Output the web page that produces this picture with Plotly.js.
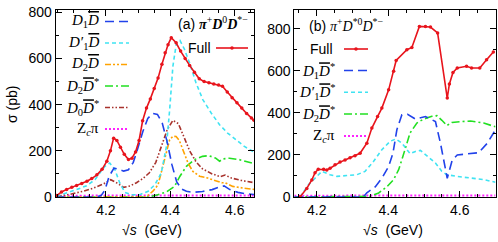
<!DOCTYPE html>
<html><head><meta charset="utf-8">
<script src="https://cdn.plot.ly/plotly-3.0.1.min.js"></script>
<style>body{margin:0;padding:0;background:#fff}#chart{width:498px;height:242px}</style>
</head><body><div id="chart"></div>
<script>
// ---------- Panel (a): pi+ D0 D*- ----------
const aFullX = [4.047,4.062,4.078,4.094,4.109,4.125,4.141,4.156,4.172,4.188,4.203,4.214,4.224,4.234,4.245,4.257,4.27,4.281,4.292,4.303,4.314,4.326,4.338,4.35,4.362,4.374,4.384,4.393,4.403,4.418,4.432,4.446,4.46,4.475,4.49,4.505,4.52,4.535,4.55,4.562,4.577,4.592,4.607,4.622,4.637,4.652,4.66];
const aFull  = [6,22,33,42,50,58,68,80,96,120,155,200,255,245,215,185,162,168,195,245,330,385,425,470,515,575,625,660,690,668,632,600,570,540,512,500,495,490,485,480,455,430,408,385,362,342,332];
const aD1X = [4.044,4.17,4.185,4.197,4.21,4.225,4.24,4.255,4.27,4.285,4.3,4.315,4.33,4.345,4.36,4.375,4.39,4.405,4.42,4.435,4.45,4.47,4.5,4.53,4.55,4.567,4.585,4.61,4.635,4.66];
const aD1  = [0,0,6,30,90,125,120,112,118,150,215,285,340,362,358,320,240,140,65,35,25,20,24,32,42,48,32,20,14,11];
const aD1pX = [4.047,4.078,4.109,4.14,4.166,4.181,4.197,4.212,4.228,4.243,4.259,4.279,4.305,4.331,4.352,4.372,4.388,4.398,4.408,4.419,4.43,4.444,4.46,4.48,4.501,4.527,4.553,4.578,4.604,4.63,4.66];
const aD1p  = [3,17,32,49,75,104,133,147,118,61,20,10,10,25,53,104,219,378,566,667,678,640,580,494,422,364,313,277,248,219,195];
const aD2X = [4.044,4.32,4.33,4.346,4.362,4.377,4.388,4.398,4.408,4.418,4.428,4.439,4.455,4.47,4.491,4.516,4.542,4.56,4.57,4.594,4.625,4.66];
const aD2  = [0,0,6,25,53,133,198,248,263,262,245,205,147,111,90,82,70,62,62,46,39,33];
const aD2sX = [4.044,4.33,4.357,4.388,4.413,4.43,4.45,4.475,4.5,4.52,4.54,4.553,4.563,4.584,4.614,4.645,4.66];
const aD2s  = [0,0,8,22,46,90,133,162,176,179,169,155,165,168,162,150,145];
const aD0sX = [4.047,4.09,4.13,4.16,4.19,4.215,4.235,4.255,4.275,4.295,4.315,4.335,4.355,4.372,4.39,4.408,4.425,4.44,4.46,4.48,4.5,4.53,4.555,4.57,4.59,4.62,4.66];
const aD0s  = [3,12,25,38,55,75,60,42,48,62,80,105,150,215,290,332,318,268,200,152,122,100,88,95,82,72,62];
const aZcX = [4.044,4.08,4.15,4.25,4.35,4.45,4.55,4.66];
const aZc  = [2,5,6,7,7,7,6,6];

// ---------- Panel (b): pi+ D*0 D*- ----------
const bFullX = [4.153,4.172,4.186,4.195,4.204,4.219,4.228,4.237,4.251,4.265,4.279,4.293,4.307,4.321,4.340,4.354,4.370,4.382,4.401,4.415,4.422,4.452,4.466,4.487,4.504,4.518,4.538,4.565,4.571,4.581,4.593,4.619,4.633,4.656,4.675,4.694];
const bFull  = [0,41,81,116,132,132,129,137,153,166,176,187,196,208,256,328,383,423,510,598,650,701,712,812,812,809,781,471,538,593,614,622,614,614,653,690];
const bD1X = [4.137,4.33,4.34,4.364,4.382,4.401,4.413,4.424,4.438,4.454,4.476,4.504,4.532,4.546,4.565,4.579,4.593,4.621,4.653,4.677,4.7];
const bD1  = [0,0,20,49,89,145,208,320,391,394,371,383,359,256,89,176,200,205,211,256,320];
const bD1pX = [4.153,4.177,4.2,4.214,4.237,4.256,4.284,4.312,4.335,4.359,4.382,4.405,4.421,4.438,4.461,4.476,4.49,4.508,4.532,4.55,4.564,4.592,4.63,4.667,4.7];
const bD1p  = [0,59,98,122,106,98,102,106,122,170,225,265,276,257,206,217,222,197,162,122,106,98,90,83,70];
const bD2sX = [4.137,4.33,4.349,4.373,4.396,4.415,4.429,4.441,4.452,4.461,4.48,4.499,4.522,4.536,4.55,4.564,4.578,4.611,4.63,4.667,4.7];
const bD2s  = [0,0,3,19,48,83,130,194,257,305,352,371,384,387,365,340,355,360,362,352,334];
const bZcX = [4.137,4.2,4.3,4.4,4.5,4.6,4.7];
const bZc  = [6,7,7,7,7,7,7];

const xTicks = [4.2,4.4,4.6];
const xTickText = ['4.2','4.4','4.6'];
const yTicks = [0,200,400,600,800];

// legend labels
const DB = '<span style="text-decoration:overline"><i>D</i></span>';
const labA = ['<i>D</i><sub>1</sub>'+DB,'<i>D\u2032</i><sub>1</sub>'+DB,'<i>D</i><sub>2</sub>'+DB,'<i>D</i><sub>2</sub>'+DB+'<sup>*</sup>','<i>D</i><sub>0</sub>'+DB+'<sup>*</sup>','Z<sub><i>c</i></sub>π'];
const labB = ['<i>D</i><sub>1</sub>'+DB+'<sup>*</sup>','<i>D\u2032</i><sub>1</sub>'+DB+'<sup>*</sup>','<i>D</i><sub>2</sub>'+DB+'<sup>*</sup>','Z<sub><i>c</i></sub>π'];

// ---------- styles ----------
const C = {red:'#e8141c', blue:'#2142ea', cyan:'#3fe3f2', orange:'#ffa200', green:'#22e022', brown:'#a8322c', mag:'#ff22ff'};
const D = {blue:'9px,5px', cyan:'4px,3px', orange:'6px,2px,2px,2px,2px,2px', green:'8px,3px,2px,3px', brown:'5px,2px,1.5px,2px,1.5px,2px', mag:'2px,2px'};
const LW = 1.6;
function ln(x,y,col,dash,xa,ya,w){return {x:x,y:y,type:'scatter',mode:'lines',xaxis:xa,yaxis:ya,line:{color:col,dash:dash,width:w||LW},hoverinfo:'skip'};}

const traces = [
  ln(aZcX,aZc,C.mag,D.mag,'x','y',2),
  ln(aD0sX,aD0s,C.brown,D.brown,'x','y'),
  ln(aD2sX,aD2s,C.green,D.green,'x','y'),
  ln(aD2X,aD2,C.orange,D.orange,'x','y'),
  ln(aD1pX,aD1p,C.cyan,D.cyan,'x','y'),
  ln(aD1X,aD1,C.blue,D.blue,'x','y'),
  {x:aFullX,y:aFull,type:'scatter',mode:'lines+markers',xaxis:'x',yaxis:'y',line:{color:C.red,width:LW},marker:{color:C.red,size:3.5},hoverinfo:'skip'},
  ln(bZcX,bZc,C.mag,D.mag,'x2','y2',2),
  ln(bD2sX,bD2s,C.green,D.green,'x2','y2'),
  ln(bD1pX,bD1p,C.cyan,D.cyan,'x2','y2'),
  ln(bD1X,bD1,C.blue,D.blue,'x2','y2'),
  {x:bFullX,y:bFull,type:'scatter',mode:'lines+markers',xaxis:'x2',yaxis:'y2',line:{color:C.red,width:LW},marker:{color:C.red,size:3.5},hoverinfo:'skip'}
];

const W=498,H=242;
const PX = p=>p/W, PY = p=>(H-p)/H;
const tickFont = {family:'Liberation Sans, Arial, sans-serif', size:14, color:'#000'};
function xax(dom,rng){return {domain:dom,range:rng,tickvals:xTicks,ticktext:xTickText,ticks:'inside',ticklen:6,tickcolor:'#000',mirror:'ticks',showline:true,linecolor:'#000',linewidth:1,showgrid:false,zeroline:false,tickfont:tickFont,minor:{ticks:'inside',ticklen:3,dtick:0.05,tick0:4.0,tickcolor:'#000'},fixedrange:true};}
function yax(rng,anchor){return {domain:[45/H,232/H],range:rng,anchor:anchor,tickvals:yTicks,ticks:'inside',ticklen:6,tickcolor:'#000',mirror:'ticks',showline:true,linecolor:'#000',linewidth:1,showgrid:false,zeroline:false,tickfont:tickFont,minor:{ticks:'inside',ticklen:3,dtick:100,tick0:0,tickcolor:'#000'},fixedrange:true};}

const serif = {family:'Liberation Serif, Times New Roman, serif', size:15, color:'#000'};
const sans = {family:'Liberation Sans, Arial, sans-serif', size:14, color:'#000'};
const ann = [];
const shapes = [];
function txt(t,x,y,font,xanchor){ann.push({text:t,x:PX(x),y:PY(y),xref:'paper',yref:'paper',showarrow:false,font:font,xanchor:xanchor||'right',yanchor:'middle'});}
function sample(x0,x1,y,col,dash,w){shapes.push({type:'line',xref:'paper',yref:'paper',x0:PX(x0),x1:PX(x1),y0:PY(y),y1:PY(y),line:{color:col,dash:dash,width:w||LW}});}
function dot(x,y,col){shapes.push({type:'circle',xref:'paper',yref:'paper',x0:PX(x-1.8),x1:PX(x+1.8),y0:PY(y-1.8),y1:PY(y+1.8),fillcolor:col,line:{width:0}});}

// panel (a) legend
const rowsA=[21.5,43,64.5,86,107.5,129];
const colA=[C.blue,C.cyan,C.orange,C.green,C.brown,C.mag];
const dashA=[D.blue,D.cyan,D.orange,D.green,D.brown,D.mag];
labA.forEach((l,i)=>{txt(l,101,rowsA[i],serif,'right');sample(105,129,rowsA[i],colA[i],dashA[i],i===5?2:LW);});
txt('(a) <span style="font-family:Liberation Serif"><b><i>π</i></b><sup>+</sup><b><i>D</i></b><sup>0</sup><b><i>D</i></b><sup>*−</sup></span>',176,23,sans,'left');
txt('Full',213,48,sans,'right');
sample(216,248,48,C.red,'solid');dot(232,48,C.red);

// panel (b) legend
txt('(b) <span style="font-family:Liberation Serif"><i>π</i><sup>+</sup><i>D</i><sup>*0</sup><i>D</i><sup>*−</sup></span>',307,25,sans,'left');
txt('Full',335,49,sans,'right');
sample(344,368,49,C.red,'solid');dot(356,49,C.red);
const rowsB=[70.5,92.3,114,136];
const colB=[C.blue,C.cyan,C.green,C.mag];
const dashB=[D.blue,D.cyan,D.green,D.mag];
labB.forEach((l,i)=>{txt(l,337,rowsB[i],serif,'right');sample(344,368,rowsB[i],colB[i],dashB[i],i===3?2:LW);});

// axis titles
ann.push({text:'σ (pb)',x:PX(12),y:PY(105),xref:'paper',yref:'paper',showarrow:false,textangle:-90,font:sans,xanchor:'center',yanchor:'middle'});
ann.push({text:'√<i>s</i>&nbsp;&nbsp;(GeV)',x:PX(152),y:PY(230),xref:'paper',yref:'paper',showarrow:false,font:sans,xanchor:'center',yanchor:'middle'});
ann.push({text:'√<i>s</i>&nbsp;&nbsp;(GeV)',x:PX(393),y:PY(230),xref:'paper',yref:'paper',showarrow:false,font:sans,xanchor:'center',yanchor:'middle'});

const layout = {
  width:W,height:H,margin:{l:0,r:0,t:0,b:0},paper_bgcolor:'#fff',plot_bgcolor:'#fff',showlegend:false,
  xaxis:xax([55.7/W,254/W],[4.044,4.66]),
  yaxis:yax([0,810],'x'),
  xaxis2:xax([294.3/W,495.5/W],[4.137,4.70]),
  yaxis2:yax([0,890],'x2'),
  annotations:ann, shapes:shapes
};
layout.xaxis.anchor='y'; layout.xaxis2.anchor='y2';
Plotly.newPlot('chart',traces,layout,{staticPlot:true,displayModeBar:false});
</script></body></html>
